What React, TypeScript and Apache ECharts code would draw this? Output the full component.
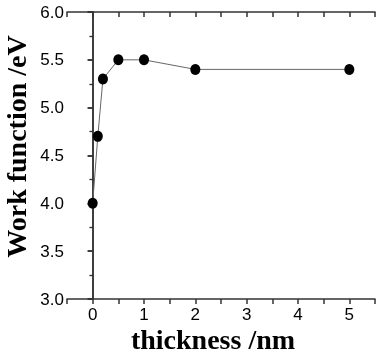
import React, { useEffect, useRef } from "react";
import * as echarts from "echarts";

const thickness = [0, 0.1, 0.2, 0.5, 1, 2, 5];
const workFunction = [4.0, 4.7, 5.3, 5.5, 5.5, 5.4, 5.4];
const xLabels = [0, 1, 2, 3, 4, 5];

export default function App() {
  const ref = useRef<HTMLDivElement>(null);
  useEffect(() => {
    if (!ref.current) return;
    const chart = echarts.init(ref.current, null, { renderer: "svg" });
    const axisColor = "#333";
    const labelStyle = { color: "#000", fontFamily: "Liberation Sans", fontSize: 17, lineHeight: 17 };
    const titleStyle = { fontFamily: "Liberation Serif", fontWeight: "bold", fontSize: 28, lineHeight: 28, color: "#000" };
    chart.setOption({
      animation: false,
      grid: { left: 67, top: 12, right: 3, bottom: 54, containLabel: false, outerBoundsMode: "none" },
      xAxis: [
        {
          type: "value",
          min: -0.5,
          max: 5.5,
          interval: 0.5,
          position: "bottom",
          name: "thickness /nm",
          nameLocation: "middle",
          nameGap: 26,
          nameMoveOverlap: false,
          nameTextStyle: { ...titleStyle, padding: [0, 16, 0, 0] },
          axisLine: { show: true, lineStyle: { color: axisColor, width: 1.5 } },
          axisTick: { show: true, inside: false, length: 5, lineStyle: { color: axisColor, width: 1.5 } },
          axisLabel: {
            ...labelStyle,
            margin: 7,
            showMinLabel: true,
            showMaxLabel: true,
            formatter: (v: number) => (xLabels.includes(v) ? String(v) : ""),
          },
          splitLine: { show: false },
        },
        {
          type: "value",
          min: -0.5,
          max: 5.5,
          interval: 0.5,
          position: "top",
          axisLine: { show: true, lineStyle: { color: axisColor, width: 1.5 } },
          axisTick: { show: true, inside: true, length: 5, lineStyle: { color: axisColor, width: 1.5 } },
          axisLabel: { show: false },
          splitLine: { show: false },
        },
      ],
      yAxis: [
        {
          type: "value",
          min: 3,
          max: 6,
          interval: 0.5,
          position: "left",
          name: "Work function /eV",
          nameLocation: "middle",
          nameGap: 37,
          nameMoveOverlap: false,
          nameTextStyle: { ...titleStyle, padding: [0, 0, 0, 18] },
          axisLine: { show: true, lineStyle: { color: axisColor, width: 1.5 } },
          axisTick: { show: true, inside: false, length: 5, lineStyle: { color: axisColor, width: 1.5 } },
          minorTick: { show: true, splitNumber: 2, length: 3, lineStyle: { color: axisColor, width: 1.2 } },
          axisLabel: { ...labelStyle, margin: 3, formatter: (v: number) => v.toFixed(1) },
          splitLine: { show: false },
          minorSplitLine: { show: false },
        },
        {
          type: "value",
          min: 3,
          max: 6,
          interval: 0.5,
          position: "right",
          axisLine: { show: true, lineStyle: { color: axisColor, width: 1.5 } },
          axisTick: { show: true, inside: true, length: 5, lineStyle: { color: axisColor, width: 1.5 } },
          minorTick: { show: true, splitNumber: 2, length: 3, lineStyle: { color: axisColor, width: 1.2 } },
          axisLabel: { show: false },
          splitLine: { show: false },
          minorSplitLine: { show: false },
        },
      ],
      series: [
        {
          type: "line",
          xAxisIndex: 0,
          yAxisIndex: 0,
          data: thickness.map((t, i) => [t, workFunction[i]]),
          symbol: "circle",
          symbolSize: [10, 11],
          itemStyle: { color: "#000" },
          lineStyle: { color: "#666", width: 1 },
        },
      ],
    });
    return () => chart.dispose();
  }, []);
  return <div ref={ref} style={{ position: "fixed", left: 0, top: 0, width: 378, height: 353 }} />;
}
